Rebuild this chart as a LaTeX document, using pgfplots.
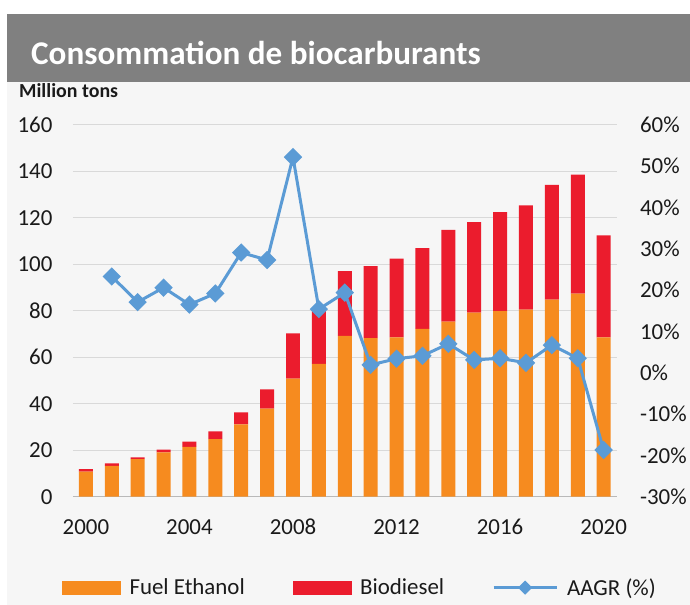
\documentclass[border=0pt]{standalone}
\usepackage{fontspec}
\setmainfont{Carlito}
\usepackage{pgfplots}
\pgfplotsset{compat=1.18}
\usepackage{pgfplotstable}

\definecolor{pagebg}{HTML}{F6F6F6}
\definecolor{band}{HTML}{808080}
\definecolor{eth}{HTML}{F68B1F}
\definecolor{bio}{HTML}{EB1C2D}
\definecolor{aagr}{HTML}{5B9BD5}
\definecolor{gridc}{HTML}{D9D9D9}
\definecolor{txt}{HTML}{1A1A1A}

% million tons
\pgfplotstableread{
year eth bio
2000 10.8 1.0
2001 13.3 1.0
2002 16.1 0.8
2003 19.1 1.1
2004 21.4 2.3
2005 24.8 3.3
2006 31.1 5.2
2007 37.9 8.3
2008 50.8 19.5
2009 57.1 24.0
2010 69.2 27.9
2011 68.2 31.0
2012 68.6 33.9
2013 72.2 34.8
2014 75.3 39.5
2015 79.2 39.0
2016 79.8 42.7
2017 80.5 44.9
2018 84.8 49.4
2019 87.4 51.2
2020 68.6 43.9
}\fuels

% AAGR in %
\pgfplotstableread{
year g
2001 23.3
2002 17.1
2003 20.6
2004 16.5
2005 19.2
2006 29.1
2007 27.3
2008 52.2
2009 15.4
2010 19.4
2011 1.9
2012 3.4
2013 4.1
2014 7.0
2015 3.1
2016 3.5
2017 2.4
2018 6.7
2019 3.5
2020 -18.7
}\growth

\begin{document}
\begin{tikzpicture}[x=1bp,y=1bp]
\fill[white] (0,0) rectangle (690,605);
\fill[pagebg] (7,0) rectangle (690,523);
\fill[band] (7,523) rectangle (690,591);
\node[anchor=base west,text=white,font=\fontsize{33.3}{40}\selectfont\bfseries,inner sep=0]
  at (31,540) {Consommation de biocarburants};
\node[anchor=base west,text=txt,font=\fontsize{20}{24}\selectfont\bfseries,inner sep=0]
  at (19,507) {Million tons};

\pgfplotsset{
  every axis/.append style={
    scale only axis, width=544bp, height=372bp,
    at={(73bp,108bp)}, anchor=south west,
    xmin=1999.5, xmax=2020.5, enlargelimits=false,
    tick label style={font=\fontsize{23}{27}\selectfont, text=txt},
    /pgf/number format/assume math mode=true,
    major tick length=0pt,
  }
}

\begin{axis}[
  ybar stacked, bar width=14bp,
  ymin=0, ymax=160, ytick={0,20,...,160},
  xtick={2000,2004,...,2020},
  /pgf/number format/1000 sep={},
  ymajorgrids, grid style={gridc, line width=1pt},
  axis x line*=bottom, axis y line*=left,
  x axis line style={gray!55, line width=1.2pt, -},
  y axis line style={draw=none},
  xticklabel style={yshift=-19bp},
  yticklabel style={xshift=-17bp},
]
\addplot[fill=eth, draw=none] table[x=year,y=eth] {\fuels};
\addplot[fill=bio, draw=none] table[x=year,y=bio] {\fuels};
\end{axis}

\begin{axis}[
  axis x line=none,
  axis y line=right, y axis line style={draw=none},
  ymin=-30, ymax=60, ytick={-30,-20,...,60},
  yticklabel={\pgfmathprintnumber{\tick}\%},
  yticklabel style={xshift=20bp},
  legend columns=3,
  legend style={at={(-0.0202,-0.2446)}, anchor=west, draw=none, fill=none,
    font=\fontsize{23}{27}\selectfont, text=txt, inner sep=0pt,
    /tikz/every odd column/.append style={column sep=7bp},
    /tikz/every even column/.append style={column sep=46bp}},
]
\addlegendimage{legend image code/.code={\fill[eth] (0bp,-6.5bp) rectangle (58bp,6.5bp);}}
\addlegendentry{Fuel Ethanol}
\addlegendimage{legend image code/.code={\fill[bio] (0bp,-6.5bp) rectangle (58bp,6.5bp);}}
\addlegendentry{Biodiesel}
\addlegendimage{legend image code/.code={\draw[aagr,line width=3bp,mark=square*,
    mark size=3.5bp,mark options={rotate=45},mark repeat=2,mark phase=2]
    plot coordinates {(0bp,0bp) (31.5bp,0bp) (63bp,0bp)};}}
\addlegendentry{AAGR (\%)}
\addplot[aagr, line width=3bp, mark=square*, mark size=5bp, mark options={rotate=45}, forget plot]
  table[x=year,y=g] {\growth};
\end{axis}
\end{tikzpicture}
\end{document}
